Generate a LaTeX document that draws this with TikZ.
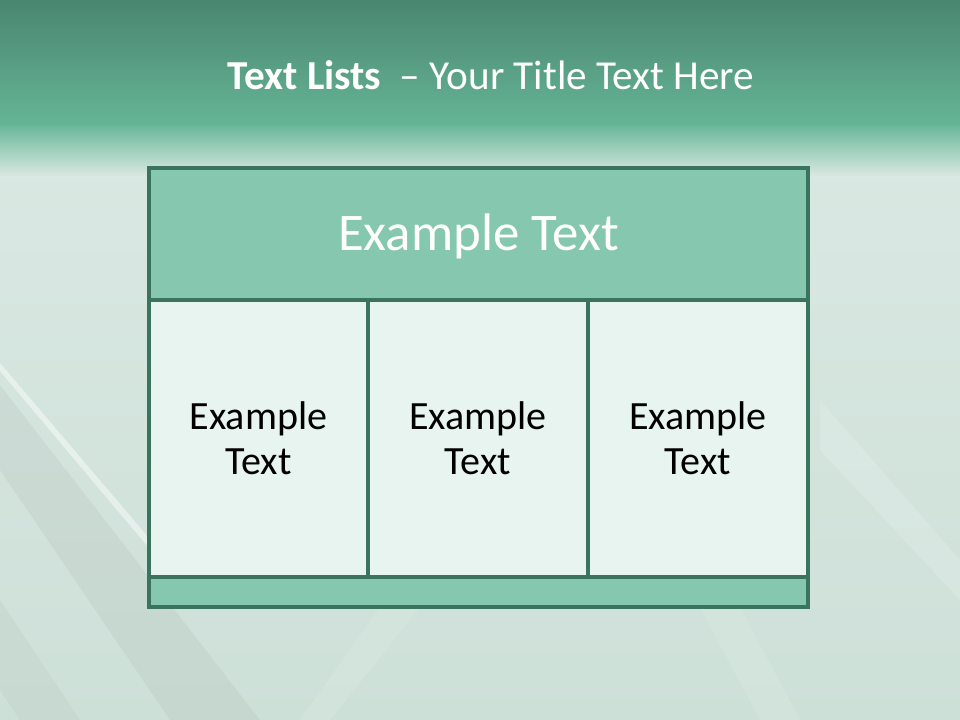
\documentclass[tikz,border=0pt]{standalone}
\usepackage{fontspec}
\setmainfont{Carlito}
\usetikzlibrary{positioning, calc}
\usepackage{xcolor}
\definecolor{tgreen}{RGB}{74,134,112}
\definecolor{tband}{RGB}{102,182,151}
\definecolor{hfill}{RGB}{134,200,175}
\definecolor{cfill}{RGB}{231,244,239}
\definecolor{tline}{RGB}{58,115,94}
\definecolor{bglite}{RGB}{221,234,229}
\definecolor{bgdark}{RGB}{205,224,216}

\begin{document}
\begin{tikzpicture}[x=0.025cm, y=-0.025cm,
  frame/.style={draw=tline, line width=2.2pt},
  celltxt/.style={font=\fontsize{28.5}{32}\selectfont, align=center, text=black}]
  \useasboundingbox (0,0) rectangle (960,720);
  % background
  \shade[top color=bglite, bottom color=bgdark] (0,0) rectangle (960,720);
  \fill[gray, opacity=0.09] (0,385) -- (0,470) -- (170,720) -- (260,720) -- cycle;
  \fill[gray, opacity=0.07] (0,600) -- (0,690) -- (20,720) -- (80,720) -- cycle;
  \fill[white, opacity=0.45] (0,363) -- (0,371) -- (149,548) -- (149,538) -- cycle;
  \fill[white, opacity=0.15] (820,400) -- (960,560) -- (960,600) -- (820,450) -- cycle;
  \fill[white, opacity=0.10] (380,607) -- (420,607) -- (330,720) -- (300,720) -- cycle;
  \fill[white, opacity=0.10] (700,607) -- (740,607) -- (800,720) -- (760,720) -- cycle;
  % title band
  \shade[top color=tgreen, bottom color=tband] (0,0) rectangle (960,128);
  \shade[top color=tband!95!white, bottom color=bglite] (0,127) rectangle (960,178);
  \node[text=white, font=\fontsize{29.3}{34}\selectfont] (title) at (491,75)
    {\textbf{Text Lists}\hspace{0.45em}– Your Title Text Here};
  % table
  \fill[hfill] (149,168) rectangle (808,300);
  \fill[hfill] (149,577) rectangle (808,607);
  \foreach \xa/\xb/\nm in {149/368/ca, 368/588/cb, 588/808/cc}{
    \fill[cfill] (\xa,300) rectangle (\xb,577);
    \node[celltxt] (\nm) at ({(\xa+\xb)/2},438) {Example\\Text};
  }
  \node[text=white, font=\fontsize{37.6}{42}\selectfont] (head) at (478.5,236) {Example Text};
  \draw[frame] (149,168) rectangle (808,607);
  \draw[frame] (149,300) -- (808,300);
  \draw[frame] (149,577) -- (808,577);
  \draw[frame] (368,300) -- (368,577);
  \draw[frame] (588,300) -- (588,577);
\end{tikzpicture}
\end{document}
